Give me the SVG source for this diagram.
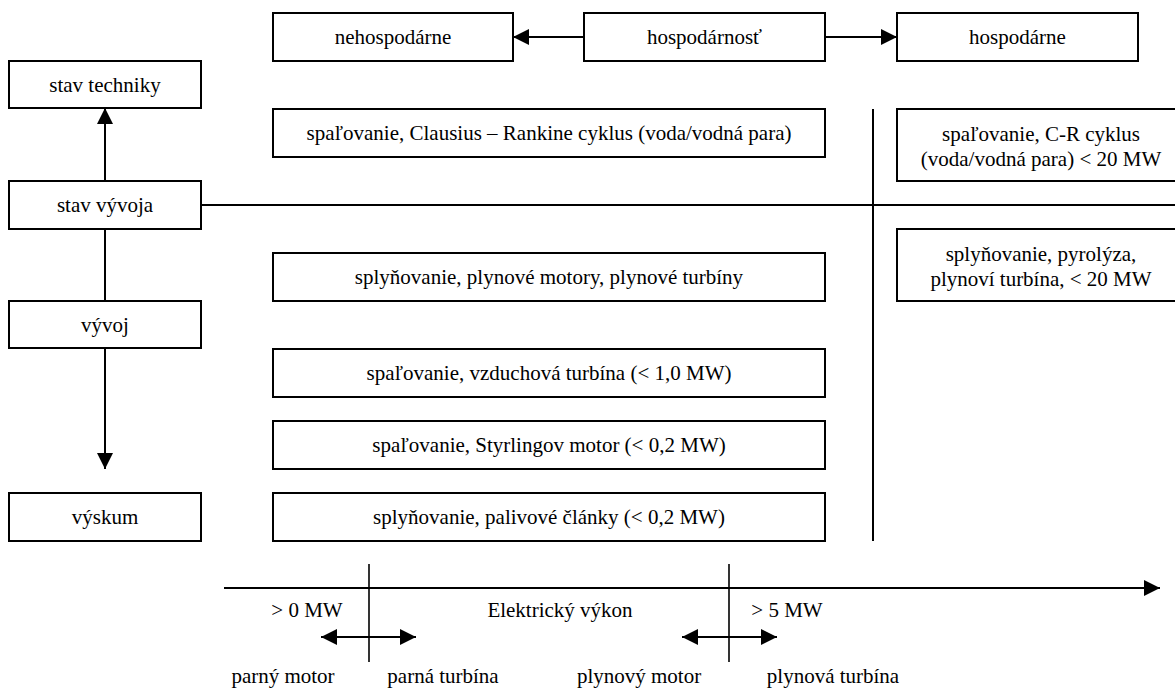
<svg xmlns="http://www.w3.org/2000/svg" width="1175" height="688" viewBox="0 0 1175 688">
<style>
.box{fill:#fff;stroke:#000;stroke-width:2}
.t{font-family:'Liberation Serif',serif;font-size:21px;fill:#000;text-anchor:middle}
.ln{stroke:#000;stroke-width:2;fill:none}
.thin{stroke:#000;stroke-width:1.6;fill:none}
</style>
<defs>
<marker id="ah" viewBox="0 0 16 16" refX="16" refY="8" markerWidth="16" markerHeight="16" markerUnits="userSpaceOnUse" orient="auto-start-reverse">
<path d="M0,0 L16,8 L0,16 z" fill="#000"/>
</marker>
</defs>
<rect width="1175" height="688" fill="#fff"/>
<g id="connectors">
<line class="ln" x1="584" y1="37" x2="513" y2="37" marker-end="url(#ah)"/>
<line class="ln" x1="825" y1="37" x2="897" y2="37" marker-end="url(#ah)"/>
<line class="ln" x1="105" y1="181" x2="105" y2="108" marker-end="url(#ah)"/>
<line class="ln" x1="105" y1="229" x2="105" y2="301"/>
<line class="ln" x1="105" y1="348" x2="105" y2="469" marker-end="url(#ah)"/>
<line class="ln" x1="201" y1="205" x2="1175" y2="205"/>
<line class="ln" x1="873" y1="109" x2="873" y2="541"/>
<line class="ln" x1="224" y1="588" x2="1160" y2="588" marker-end="url(#ah)"/>
<line class="thin" x1="369" y1="564" x2="369" y2="662"/>
<line class="thin" x1="729" y1="564" x2="729" y2="662"/>
<line class="ln" x1="321" y1="637" x2="416" y2="637" marker-start="url(#ah)" marker-end="url(#ah)"/>
<line class="ln" x1="682" y1="637" x2="777" y2="637" marker-start="url(#ah)" marker-end="url(#ah)"/>
</g>
<g id="n-stav-techniky"><rect class="box" x="9" y="61" width="192" height="47"/><text class="t" x="105" y="92">stav techniky</text></g>
<g id="n-stav-vyvoja"><rect class="box" x="9" y="181" width="192" height="48"/><text class="t" x="105" y="212">stav vývoja</text></g>
<g id="n-vyvoj"><rect class="box" x="9" y="301" width="192" height="47"/><text class="t" x="105" y="332">vývoj</text></g>
<g id="n-vyskum"><rect class="box" x="9" y="493" width="192" height="48"/><text class="t" x="105" y="524">výskum</text></g>
<g id="n-nehospodarne"><rect class="box" x="273" y="13" width="240" height="48"/><text class="t" x="393" y="44">nehospodárne</text></g>
<g id="n-hospodarnost"><rect class="box" x="584" y="13" width="241" height="48"/><text class="t" x="704.5" y="44">hospodárnosť</text></g>
<g id="n-hospodarne"><rect class="box" x="897" y="13" width="241" height="48"/><text class="t" x="1017.5" y="44">hospodárne</text></g>
<g id="n-clausius"><rect class="box" x="273" y="109" width="552" height="48"/><text class="t" x="549" y="140">spaľovanie, Clausius – Rankine cyklus (voda/vodná para)</text></g>
<g id="n-plynove-motory"><rect class="box" x="273" y="253" width="552" height="48"/><text class="t" x="549" y="284">splyňovanie, plynové motory, plynové turbíny</text></g>
<g id="n-vzduchova"><rect class="box" x="273" y="349" width="552" height="48"/><text class="t" x="549" y="380">spaľovanie, vzduchová turbína (&lt; 1,0 MW)</text></g>
<g id="n-styrling"><rect class="box" x="273" y="421" width="552" height="48"/><text class="t" x="549" y="452">spaľovanie, Styrlingov motor (&lt; 0,2 MW)</text></g>
<g id="n-palivove"><rect class="box" x="273" y="493" width="552" height="48"/><text class="t" x="549" y="524">splyňovanie, palivové články (&lt; 0,2 MW)</text></g>
<g id="n-cr"><rect class="box" x="897" y="109" width="288" height="72"/><text class="t" x="1041" y="141">spaľovanie, C-R cyklus</text><text class="t" x="1041" y="166">(voda/vodná para) &lt; 20 MW</text></g>
<g id="n-pyrolyza"><rect class="box" x="897" y="229" width="288" height="72"/><text class="t" x="1041" y="261">splyňovanie, pyrolýza,</text><text class="t" x="1041" y="286">plynoví turbína, &lt; 20 MW</text></g>
<g id="axis-labels">
<text class="t" x="307" y="617">&gt; 0 MW</text>
<text class="t" x="560" y="617">Elektrický výkon</text>
<text class="t" x="787" y="617">&gt; 5 MW</text>
<text class="t" x="283" y="683">parný motor</text>
<text class="t" x="443" y="683">parná turbína</text>
<text class="t" x="639" y="683">plynový motor</text>
<text class="t" x="833" y="683">plynová turbína</text>
</g>
</svg>
